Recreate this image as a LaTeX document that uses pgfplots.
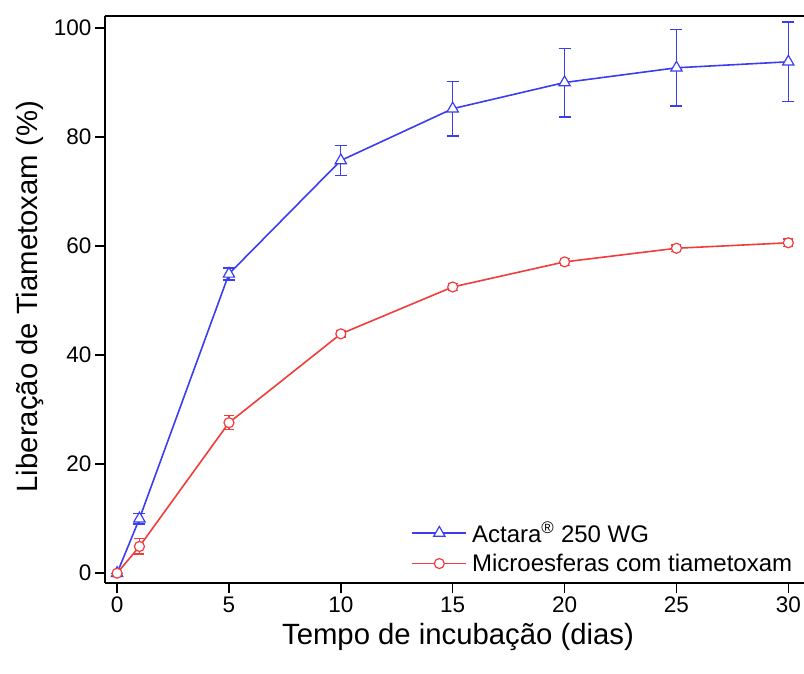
\documentclass[border=0pt]{standalone}
\usepackage{pgfplots}
\pgfplotsset{compat=1.18}
\usepackage{fontspec}
\setmainfont{Liberation Sans}
\definecolor{cblue}{RGB}{60,60,240}
\definecolor{cred}{RGB}{240,60,60}
\begin{document}
\begin{tikzpicture}
\path[use as bounding box] (-105pt,-90pt) rectangle (699pt,583pt);
\begin{axis}[
  scale only axis,
  width=699pt, height=567pt,
  xmin=-0.54, xmax=30.7,
  ymin=-1.8, ymax=102.2,
  axis x line*=box,
  axis y line*=left,
  axis line style={line width=1.4pt, -},
  xtick={0,5,10,15,20,25,30},
  ytick={0,20,40,60,80,100},
  xtick pos=left, ytick pos=left,
  tick align=outside,
  major tick length=10pt,
  tick style={line width=1.4pt, black},
  minor tick num=0,
  /pgf/number format/assume math mode=true,
  ticklabel style={font=\fontsize{22.5}{26}\selectfont},
  xlabel={Tempo de incubação (dias)},
  ylabel={Liberação de Tiametoxam (\%)},
  label style={font=\fontsize{29.3}{33}\selectfont},
  xlabel style={at={(axis description cs:0.505,-0.095)}, anchor=center},
  ylabel style={at={(axis description cs:-0.108,0.505)}, anchor=center},
  legend style={draw=none, fill=none, at={(axis description cs:0.992,0.012)}, anchor=south east,
    font=\fontsize{24}{28}\selectfont, row sep=6pt, inner sep=1pt,
    nodes={inner xsep=5pt}},
  legend cell align=left,
  legend image code/.code={\draw[mark repeat=2,mark phase=2] plot coordinates {(0pt,0pt) (27pt,0pt) (54pt,0pt)};},
  clip=false,
]
\addplot[cblue, line width=1.6pt, mark=triangle*, mark size=6.5pt,
  mark options={fill=white, line width=1.2pt},
  error bars/.cd, y dir=both, y explicit,
  error bar style={line width=1.3pt, cblue},
  error mark options={rotate=90, mark size=6pt, line width=1.3pt, cblue}]
  table[x=x, y=y, y error=e] {
x y e
0 0 0
1 10 1
5 54.9 1.1
10 75.7 2.7
15 85.2 5
20 90.0 6.3
25 92.7 7
30 93.8 7.3
};
\addlegendentry{Actara\textsuperscript{®} 250 WG}
\addplot[cred, line width=1.6pt, mark=*, mark size=5pt,
  mark options={fill=white, line width=1.2pt},
  error bars/.cd, y dir=both, y explicit,
  error bar style={line width=1.3pt, cred},
  error mark options={rotate=90, mark size=5pt, line width=1.3pt, cred}]
  table[x=x, y=y, y error=e] {
x y e
0 0 0
1 4.9 1.4
5 27.6 1.3
10 43.9 0.6
15 52.5 0.6
20 57.1 0.6
25 59.6 0.6
30 60.6 0.7
};
\addlegendentry{Microesferas com tiametoxam}
\end{axis}
\end{tikzpicture}
\end{document}
